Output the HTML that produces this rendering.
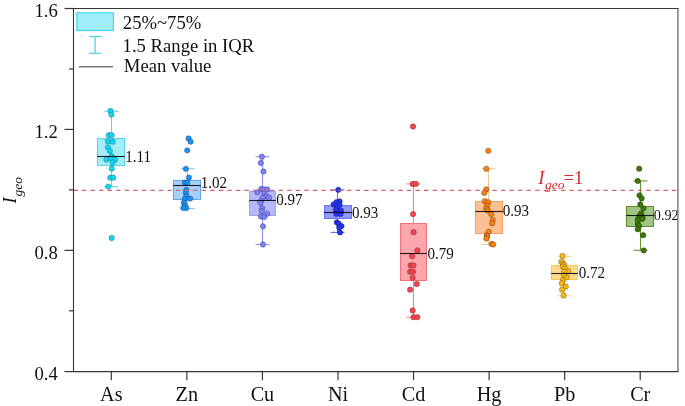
<!DOCTYPE html>
<html><head><meta charset="utf-8"><style>
html,body{margin:0;padding:0;background:#fff;}
body{width:685px;height:406px;overflow:hidden;}
svg{display:block;will-change:transform;}
text{font-family:"Liberation Serif",serif;}
</style></head><body>
<svg width="685" height="406" viewBox="0 0 685 406">
<rect width="685" height="406" fill="#fff"/>

<g>
<line x1="111.50" y1="138.50" x2="111.50" y2="111.30" stroke="#5ad8ea" stroke-width="1.1"/>
<line x1="111.50" y1="165.50" x2="111.50" y2="186.80" stroke="#5ad8ea" stroke-width="1.1"/>
<line x1="104.50" y1="111.30" x2="118.50" y2="111.30" stroke="#5ad8ea" stroke-width="1.1"/>
<line x1="104.50" y1="186.80" x2="118.50" y2="186.80" stroke="#5ad8ea" stroke-width="1.1"/>
<rect x="97.50" y="138.50" width="27.00" height="27.00" fill="#a4edf8" stroke="#52d6ea" stroke-width="1"/>
</g>
<g>
<line x1="187.50" y1="180.50" x2="187.50" y2="168.80" stroke="#86c0f2" stroke-width="1.1"/>
<line x1="187.50" y1="199.50" x2="187.50" y2="208.50" stroke="#86c0f2" stroke-width="1.1"/>
<line x1="180.50" y1="168.80" x2="194.50" y2="168.80" stroke="#86c0f2" stroke-width="1.1"/>
<line x1="180.50" y1="208.50" x2="194.50" y2="208.50" stroke="#86c0f2" stroke-width="1.1"/>
<rect x="173.50" y="180.50" width="27.00" height="19.00" fill="#a6d0f7" stroke="#5aa8f0" stroke-width="1"/>
</g>
<g>
<line x1="262.50" y1="191.50" x2="262.50" y2="156.70" stroke="#8a8ef4" stroke-width="1.1"/>
<line x1="262.50" y1="215.50" x2="262.50" y2="244.50" stroke="#8a8ef4" stroke-width="1.1"/>
<line x1="255.50" y1="156.70" x2="269.50" y2="156.70" stroke="#8a8ef4" stroke-width="1.1"/>
<line x1="255.50" y1="244.50" x2="269.50" y2="244.50" stroke="#8a8ef4" stroke-width="1.1"/>
<rect x="249.50" y="191.50" width="26.00" height="24.00" fill="#b6b9f8" stroke="#9ea2f6" stroke-width="1"/>
</g>
<g>
<line x1="337.50" y1="205.50" x2="337.50" y2="189.90" stroke="#6674f2" stroke-width="1.1"/>
<line x1="337.50" y1="218.50" x2="337.50" y2="232.40" stroke="#6674f2" stroke-width="1.1"/>
<line x1="330.50" y1="189.90" x2="344.50" y2="189.90" stroke="#6674f2" stroke-width="1.1"/>
<line x1="330.50" y1="232.40" x2="344.50" y2="232.40" stroke="#6674f2" stroke-width="1.1"/>
<rect x="324.50" y="205.50" width="27.00" height="13.00" fill="#939af7" stroke="#6a74f2" stroke-width="1"/>
</g>
<g>
<line x1="413.50" y1="223.50" x2="413.50" y2="183.90" stroke="#f08a90" stroke-width="1.1"/>
<line x1="413.50" y1="280.50" x2="413.50" y2="317.30" stroke="#f08a90" stroke-width="1.1"/>
<line x1="406.50" y1="183.90" x2="420.50" y2="183.90" stroke="#f08a90" stroke-width="1.1"/>
<line x1="406.50" y1="317.30" x2="420.50" y2="317.30" stroke="#f08a90" stroke-width="1.1"/>
<rect x="400.50" y="223.50" width="26.00" height="57.00" fill="#f9a7ac" stroke="#f0727b" stroke-width="1"/>
</g>
<g>
<line x1="488.50" y1="201.50" x2="488.50" y2="168.70" stroke="#f2c896" stroke-width="1.1"/>
<line x1="488.50" y1="233.50" x2="488.50" y2="244.50" stroke="#f2c896" stroke-width="1.1"/>
<line x1="481.50" y1="168.70" x2="495.50" y2="168.70" stroke="#f2c896" stroke-width="1.1"/>
<line x1="481.50" y1="244.50" x2="495.50" y2="244.50" stroke="#f2c896" stroke-width="1.1"/>
<rect x="475.50" y="201.50" width="27.00" height="32.00" fill="#fcc092" stroke="#f4a264" stroke-width="1"/>
</g>
<g>
<line x1="564.50" y1="265.50" x2="564.50" y2="256.40" stroke="#f8d890" stroke-width="1.1"/>
<line x1="564.50" y1="279.50" x2="564.50" y2="295.80" stroke="#f8d890" stroke-width="1.1"/>
<line x1="557.50" y1="256.40" x2="571.50" y2="256.40" stroke="#f8d890" stroke-width="1.1"/>
<line x1="557.50" y1="295.80" x2="571.50" y2="295.80" stroke="#f8d890" stroke-width="1.1"/>
<rect x="551.50" y="265.50" width="26.00" height="14.00" fill="#fcda8c" stroke="#f8c850" stroke-width="1"/>
</g>
<g>
<line x1="640.50" y1="206.50" x2="640.50" y2="180.90" stroke="#6a9434" stroke-width="1.1"/>
<line x1="640.50" y1="226.50" x2="640.50" y2="250.30" stroke="#6a9434" stroke-width="1.1"/>
<line x1="633.50" y1="180.90" x2="647.50" y2="180.90" stroke="#6a9434" stroke-width="1.1"/>
<line x1="633.50" y1="250.30" x2="647.50" y2="250.30" stroke="#6a9434" stroke-width="1.1"/>
<rect x="626.50" y="206.50" width="27.00" height="20.00" fill="#a2c484" stroke="#5a8a2a" stroke-width="1"/>
</g>
<circle cx="110.5" cy="110.9" r="2.65" fill="#12d6f2" stroke="#127688" stroke-width="0.5"/>
<circle cx="111.4" cy="114.5" r="2.65" fill="#12d6f2" stroke="#127688" stroke-width="0.5"/>
<circle cx="108.9" cy="135.1" r="2.65" fill="#12d6f2" stroke="#127688" stroke-width="0.5"/>
<circle cx="111.7" cy="135.1" r="2.65" fill="#12d6f2" stroke="#127688" stroke-width="0.5"/>
<circle cx="107.9" cy="141.4" r="2.65" fill="#12d6f2" stroke="#127688" stroke-width="0.5"/>
<circle cx="112.7" cy="141.7" r="2.65" fill="#12d6f2" stroke="#127688" stroke-width="0.5"/>
<circle cx="107.9" cy="147.3" r="2.65" fill="#12d6f2" stroke="#127688" stroke-width="0.5"/>
<circle cx="109.8" cy="150.9" r="2.65" fill="#12d6f2" stroke="#127688" stroke-width="0.5"/>
<circle cx="111.7" cy="156.1" r="2.65" fill="#12d6f2" stroke="#127688" stroke-width="0.5"/>
<circle cx="106.3" cy="159.6" r="2.65" fill="#12d6f2" stroke="#127688" stroke-width="0.5"/>
<circle cx="111.2" cy="158.6" r="2.65" fill="#12d6f2" stroke="#127688" stroke-width="0.5"/>
<circle cx="115.2" cy="159.6" r="2.65" fill="#12d6f2" stroke="#127688" stroke-width="0.5"/>
<circle cx="112.7" cy="162.5" r="2.65" fill="#12d6f2" stroke="#127688" stroke-width="0.5"/>
<circle cx="111.7" cy="168.6" r="2.65" fill="#12d6f2" stroke="#127688" stroke-width="0.5"/>
<circle cx="110.2" cy="177.7" r="2.65" fill="#12d6f2" stroke="#127688" stroke-width="0.5"/>
<circle cx="113.2" cy="177.7" r="2.65" fill="#12d6f2" stroke="#127688" stroke-width="0.5"/>
<circle cx="108.3" cy="186.6" r="2.65" fill="#12d6f2" stroke="#127688" stroke-width="0.5"/>
<circle cx="111.7" cy="238.0" r="2.65" fill="#12d6f2" stroke="#127688" stroke-width="0.5"/>
<circle cx="188.6" cy="138.4" r="2.65" fill="#1e90f2" stroke="#1a4c88" stroke-width="0.5"/>
<circle cx="190.6" cy="141.7" r="2.65" fill="#1e90f2" stroke="#1a4c88" stroke-width="0.5"/>
<circle cx="187.2" cy="150.3" r="2.65" fill="#1e90f2" stroke="#1a4c88" stroke-width="0.5"/>
<circle cx="185.9" cy="168.8" r="2.65" fill="#1e90f2" stroke="#1a4c88" stroke-width="0.5"/>
<circle cx="188.9" cy="177.6" r="2.65" fill="#1e90f2" stroke="#1a4c88" stroke-width="0.5"/>
<circle cx="184.8" cy="182.4" r="2.65" fill="#1e90f2" stroke="#1a4c88" stroke-width="0.5"/>
<circle cx="187.3" cy="182.8" r="2.65" fill="#1e90f2" stroke="#1a4c88" stroke-width="0.5"/>
<circle cx="186.3" cy="189.8" r="2.65" fill="#1e90f2" stroke="#1a4c88" stroke-width="0.5"/>
<circle cx="185.8" cy="192.7" r="2.65" fill="#1e90f2" stroke="#1a4c88" stroke-width="0.5"/>
<circle cx="186.3" cy="196.2" r="2.65" fill="#1e90f2" stroke="#1a4c88" stroke-width="0.5"/>
<circle cx="190.2" cy="198.6" r="2.65" fill="#1e90f2" stroke="#1a4c88" stroke-width="0.5"/>
<circle cx="184.8" cy="199.1" r="2.65" fill="#1e90f2" stroke="#1a4c88" stroke-width="0.5"/>
<circle cx="183.8" cy="202.6" r="2.65" fill="#1e90f2" stroke="#1a4c88" stroke-width="0.5"/>
<circle cx="184.8" cy="205.5" r="2.65" fill="#1e90f2" stroke="#1a4c88" stroke-width="0.5"/>
<circle cx="186.3" cy="208.0" r="2.65" fill="#1e90f2" stroke="#1a4c88" stroke-width="0.5"/>
<circle cx="183.3" cy="208.0" r="2.65" fill="#1e90f2" stroke="#1a4c88" stroke-width="0.5"/>
<circle cx="261.9" cy="156.7" r="2.65" fill="#7e82f4" stroke="#3c3e98" stroke-width="0.5"/>
<circle cx="260.9" cy="162.9" r="2.65" fill="#7e82f4" stroke="#3c3e98" stroke-width="0.5"/>
<circle cx="263.4" cy="171.5" r="2.65" fill="#7e82f4" stroke="#3c3e98" stroke-width="0.5"/>
<circle cx="261.3" cy="188.9" r="2.65" fill="#7e82f4" stroke="#3c3e98" stroke-width="0.5"/>
<circle cx="263.7" cy="189.4" r="2.65" fill="#7e82f4" stroke="#3c3e98" stroke-width="0.5"/>
<circle cx="267.2" cy="189.4" r="2.65" fill="#7e82f4" stroke="#3c3e98" stroke-width="0.5"/>
<circle cx="257.3" cy="192.3" r="2.65" fill="#7e82f4" stroke="#3c3e98" stroke-width="0.5"/>
<circle cx="264.2" cy="193.3" r="2.65" fill="#7e82f4" stroke="#3c3e98" stroke-width="0.5"/>
<circle cx="266.2" cy="196.3" r="2.65" fill="#7e82f4" stroke="#3c3e98" stroke-width="0.5"/>
<circle cx="262.7" cy="197.8" r="2.65" fill="#7e82f4" stroke="#3c3e98" stroke-width="0.5"/>
<circle cx="269.1" cy="197.8" r="2.65" fill="#7e82f4" stroke="#3c3e98" stroke-width="0.5"/>
<circle cx="260.8" cy="201.2" r="2.65" fill="#7e82f4" stroke="#3c3e98" stroke-width="0.5"/>
<circle cx="260.3" cy="202.7" r="2.65" fill="#7e82f4" stroke="#3c3e98" stroke-width="0.5"/>
<circle cx="262.2" cy="208.1" r="2.65" fill="#7e82f4" stroke="#3c3e98" stroke-width="0.5"/>
<circle cx="261.7" cy="211.1" r="2.65" fill="#7e82f4" stroke="#3c3e98" stroke-width="0.5"/>
<circle cx="267.2" cy="213.8" r="2.65" fill="#7e82f4" stroke="#3c3e98" stroke-width="0.5"/>
<circle cx="261.0" cy="216.5" r="2.65" fill="#7e82f4" stroke="#3c3e98" stroke-width="0.5"/>
<circle cx="264.2" cy="216.9" r="2.65" fill="#7e82f4" stroke="#3c3e98" stroke-width="0.5"/>
<circle cx="263.0" cy="226.3" r="2.65" fill="#7e82f4" stroke="#3c3e98" stroke-width="0.5"/>
<circle cx="263.0" cy="244.5" r="2.65" fill="#7e82f4" stroke="#3c3e98" stroke-width="0.5"/>
<circle cx="338.3" cy="189.8" r="2.65" fill="#2434f0" stroke="#121a78" stroke-width="0.5"/>
<circle cx="339.6" cy="201.3" r="2.65" fill="#2434f0" stroke="#121a78" stroke-width="0.5"/>
<circle cx="336.4" cy="202.2" r="2.65" fill="#2434f0" stroke="#121a78" stroke-width="0.5"/>
<circle cx="333.6" cy="204.5" r="2.65" fill="#2434f0" stroke="#121a78" stroke-width="0.5"/>
<circle cx="339.6" cy="205.0" r="2.65" fill="#2434f0" stroke="#121a78" stroke-width="0.5"/>
<circle cx="336.8" cy="207.4" r="2.65" fill="#2434f0" stroke="#121a78" stroke-width="0.5"/>
<circle cx="335.9" cy="210.2" r="2.65" fill="#2434f0" stroke="#121a78" stroke-width="0.5"/>
<circle cx="341.0" cy="210.6" r="2.65" fill="#2434f0" stroke="#121a78" stroke-width="0.5"/>
<circle cx="336.4" cy="213.9" r="2.65" fill="#2434f0" stroke="#121a78" stroke-width="0.5"/>
<circle cx="340.6" cy="213.9" r="2.65" fill="#2434f0" stroke="#121a78" stroke-width="0.5"/>
<circle cx="336.8" cy="222.3" r="2.65" fill="#2434f0" stroke="#121a78" stroke-width="0.5"/>
<circle cx="338.7" cy="223.7" r="2.65" fill="#2434f0" stroke="#121a78" stroke-width="0.5"/>
<circle cx="341.5" cy="226.1" r="2.65" fill="#2434f0" stroke="#121a78" stroke-width="0.5"/>
<circle cx="339.2" cy="227.5" r="2.65" fill="#2434f0" stroke="#121a78" stroke-width="0.5"/>
<circle cx="340.1" cy="232.4" r="2.65" fill="#2434f0" stroke="#121a78" stroke-width="0.5"/>
<circle cx="413.0" cy="126.5" r="2.65" fill="#f8464f" stroke="#7a2028" stroke-width="0.5"/>
<circle cx="412.7" cy="183.9" r="2.65" fill="#f8464f" stroke="#7a2028" stroke-width="0.5"/>
<circle cx="415.8" cy="183.9" r="2.65" fill="#f8464f" stroke="#7a2028" stroke-width="0.5"/>
<circle cx="413.1" cy="214.1" r="2.65" fill="#f8464f" stroke="#7a2028" stroke-width="0.5"/>
<circle cx="413.7" cy="232.2" r="2.65" fill="#f8464f" stroke="#7a2028" stroke-width="0.5"/>
<circle cx="417.4" cy="250.4" r="2.65" fill="#f8464f" stroke="#7a2028" stroke-width="0.5"/>
<circle cx="412.1" cy="256.2" r="2.65" fill="#f8464f" stroke="#7a2028" stroke-width="0.5"/>
<circle cx="410.6" cy="265.4" r="2.65" fill="#f8464f" stroke="#7a2028" stroke-width="0.5"/>
<circle cx="413.5" cy="265.4" r="2.65" fill="#f8464f" stroke="#7a2028" stroke-width="0.5"/>
<circle cx="410.1" cy="271.7" r="2.65" fill="#f8464f" stroke="#7a2028" stroke-width="0.5"/>
<circle cx="413.1" cy="271.7" r="2.65" fill="#f8464f" stroke="#7a2028" stroke-width="0.5"/>
<circle cx="412.7" cy="277.8" r="2.65" fill="#f8464f" stroke="#7a2028" stroke-width="0.5"/>
<circle cx="416.8" cy="283.9" r="2.65" fill="#f8464f" stroke="#7a2028" stroke-width="0.5"/>
<circle cx="410.1" cy="289.7" r="2.65" fill="#f8464f" stroke="#7a2028" stroke-width="0.5"/>
<circle cx="412.7" cy="310.5" r="2.65" fill="#f8464f" stroke="#7a2028" stroke-width="0.5"/>
<circle cx="413.5" cy="317.2" r="2.65" fill="#f8464f" stroke="#7a2028" stroke-width="0.5"/>
<circle cx="417.3" cy="317.2" r="2.65" fill="#f8464f" stroke="#7a2028" stroke-width="0.5"/>
<circle cx="488.3" cy="150.8" r="2.65" fill="#fb8216" stroke="#703810" stroke-width="0.5"/>
<circle cx="486.3" cy="168.8" r="2.65" fill="#fb8216" stroke="#703810" stroke-width="0.5"/>
<circle cx="486.3" cy="189.4" r="2.65" fill="#fb8216" stroke="#703810" stroke-width="0.5"/>
<circle cx="484.3" cy="192.8" r="2.65" fill="#fb8216" stroke="#703810" stroke-width="0.5"/>
<circle cx="484.8" cy="201.2" r="2.65" fill="#fb8216" stroke="#703810" stroke-width="0.5"/>
<circle cx="488.2" cy="202.2" r="2.65" fill="#fb8216" stroke="#703810" stroke-width="0.5"/>
<circle cx="487.2" cy="205.6" r="2.65" fill="#fb8216" stroke="#703810" stroke-width="0.5"/>
<circle cx="486.3" cy="208.6" r="2.65" fill="#fb8216" stroke="#703810" stroke-width="0.5"/>
<circle cx="487.7" cy="210.5" r="2.65" fill="#fb8216" stroke="#703810" stroke-width="0.5"/>
<circle cx="491.2" cy="213.9" r="2.65" fill="#fb8216" stroke="#703810" stroke-width="0.5"/>
<circle cx="492.7" cy="219.9" r="2.65" fill="#fb8216" stroke="#703810" stroke-width="0.5"/>
<circle cx="492.2" cy="223.3" r="2.65" fill="#fb8216" stroke="#703810" stroke-width="0.5"/>
<circle cx="488.7" cy="231.7" r="2.65" fill="#fb8216" stroke="#703810" stroke-width="0.5"/>
<circle cx="486.7" cy="235.1" r="2.65" fill="#fb8216" stroke="#703810" stroke-width="0.5"/>
<circle cx="487.2" cy="236.6" r="2.65" fill="#fb8216" stroke="#703810" stroke-width="0.5"/>
<circle cx="486.3" cy="238.6" r="2.65" fill="#fb8216" stroke="#703810" stroke-width="0.5"/>
<circle cx="491.7" cy="244.0" r="2.65" fill="#fb8216" stroke="#703810" stroke-width="0.5"/>
<circle cx="493.2" cy="244.5" r="2.65" fill="#fb8216" stroke="#703810" stroke-width="0.5"/>
<circle cx="562.5" cy="255.9" r="2.65" fill="#fab81a" stroke="#705008" stroke-width="0.5"/>
<circle cx="561.4" cy="261.8" r="2.65" fill="#fab81a" stroke="#705008" stroke-width="0.5"/>
<circle cx="562.9" cy="263.7" r="2.65" fill="#fab81a" stroke="#705008" stroke-width="0.5"/>
<circle cx="564.4" cy="264.8" r="2.65" fill="#fab81a" stroke="#705008" stroke-width="0.5"/>
<circle cx="562.9" cy="266.6" r="2.65" fill="#fab81a" stroke="#705008" stroke-width="0.5"/>
<circle cx="564.7" cy="268.5" r="2.65" fill="#fab81a" stroke="#705008" stroke-width="0.5"/>
<circle cx="568.2" cy="271.1" r="2.65" fill="#fab81a" stroke="#705008" stroke-width="0.5"/>
<circle cx="564.4" cy="271.6" r="2.65" fill="#fab81a" stroke="#705008" stroke-width="0.5"/>
<circle cx="564.0" cy="275.5" r="2.65" fill="#fab81a" stroke="#705008" stroke-width="0.5"/>
<circle cx="566.6" cy="277.4" r="2.65" fill="#fab81a" stroke="#705008" stroke-width="0.5"/>
<circle cx="562.9" cy="280.3" r="2.65" fill="#fab81a" stroke="#705008" stroke-width="0.5"/>
<circle cx="561.8" cy="283.3" r="2.65" fill="#fab81a" stroke="#705008" stroke-width="0.5"/>
<circle cx="565.8" cy="286.6" r="2.65" fill="#fab81a" stroke="#705008" stroke-width="0.5"/>
<circle cx="562.1" cy="289.6" r="2.65" fill="#fab81a" stroke="#705008" stroke-width="0.5"/>
<circle cx="563.6" cy="295.5" r="2.65" fill="#fab81a" stroke="#705008" stroke-width="0.5"/>
<circle cx="639.2" cy="168.7" r="2.65" fill="#3e7a0a" stroke="#1e3a05" stroke-width="0.5"/>
<circle cx="637.7" cy="180.9" r="2.65" fill="#3e7a0a" stroke="#1e3a05" stroke-width="0.5"/>
<circle cx="639.5" cy="195.3" r="2.65" fill="#3e7a0a" stroke="#1e3a05" stroke-width="0.5"/>
<circle cx="641.7" cy="198.4" r="2.65" fill="#3e7a0a" stroke="#1e3a05" stroke-width="0.5"/>
<circle cx="640.3" cy="204.5" r="2.65" fill="#3e7a0a" stroke="#1e3a05" stroke-width="0.5"/>
<circle cx="643.5" cy="208.3" r="2.65" fill="#3e7a0a" stroke="#1e3a05" stroke-width="0.5"/>
<circle cx="641.2" cy="213.4" r="2.65" fill="#3e7a0a" stroke="#1e3a05" stroke-width="0.5"/>
<circle cx="639.8" cy="215.3" r="2.65" fill="#3e7a0a" stroke="#1e3a05" stroke-width="0.5"/>
<circle cx="642.6" cy="217.6" r="2.65" fill="#3e7a0a" stroke="#1e3a05" stroke-width="0.5"/>
<circle cx="638.2" cy="218.9" r="2.65" fill="#3e7a0a" stroke="#1e3a05" stroke-width="0.5"/>
<circle cx="642.2" cy="218.9" r="2.65" fill="#3e7a0a" stroke="#1e3a05" stroke-width="0.5"/>
<circle cx="637.9" cy="220.5" r="2.65" fill="#3e7a0a" stroke="#1e3a05" stroke-width="0.5"/>
<circle cx="637.7" cy="223.9" r="2.65" fill="#3e7a0a" stroke="#1e3a05" stroke-width="0.5"/>
<circle cx="639.2" cy="225.8" r="2.65" fill="#3e7a0a" stroke="#1e3a05" stroke-width="0.5"/>
<circle cx="637.7" cy="229.3" r="2.65" fill="#3e7a0a" stroke="#1e3a05" stroke-width="0.5"/>
<circle cx="643.2" cy="235.2" r="2.65" fill="#3e7a0a" stroke="#1e3a05" stroke-width="0.5"/>
<circle cx="643.7" cy="250.4" r="2.65" fill="#3e7a0a" stroke="#1e3a05" stroke-width="0.5"/>
<line x1="97.20" y1="156.50" x2="124.80" y2="156.50" stroke="#000" stroke-opacity="0.86" stroke-width="1.1"/>
<line x1="173.20" y1="185.50" x2="200.80" y2="185.50" stroke="#000" stroke-opacity="0.86" stroke-width="1.1"/>
<line x1="249.20" y1="200.50" x2="275.80" y2="200.50" stroke="#000" stroke-opacity="0.86" stroke-width="1.1"/>
<line x1="324.20" y1="212.50" x2="351.80" y2="212.50" stroke="#000" stroke-opacity="0.86" stroke-width="1.1"/>
<line x1="400.20" y1="253.50" x2="426.80" y2="253.50" stroke="#000" stroke-opacity="0.86" stroke-width="1.1"/>
<line x1="475.20" y1="211.50" x2="502.80" y2="211.50" stroke="#000" stroke-opacity="0.86" stroke-width="1.1"/>
<line x1="551.20" y1="273.50" x2="577.80" y2="273.50" stroke="#000" stroke-opacity="0.86" stroke-width="1.1"/>
<line x1="626.20" y1="215.50" x2="653.80" y2="215.50" stroke="#000" stroke-opacity="0.86" stroke-width="1.1"/>
<line x1="73.50" y1="190.3" x2="678.00" y2="190.3" stroke="#d0606c" stroke-width="1.35" stroke-dasharray="4.3 4.25"/>
<text x="538.3" y="183.7" font-size="18.67" fill="#d52b2f" font-style="italic">I</text>
<text x="545.0" y="188.6" font-size="13.5" fill="#d52b2f" font-style="italic">geo</text>
<text x="563.6" y="183.7" font-size="18.67" fill="#d52b2f">=1</text>
<defs><clipPath id="pc"><rect x="0" y="0" width="677.6" height="406"/></clipPath></defs>
<g clip-path="url(#pc)"><text transform="translate(125.35,162.20) scale(0.94,1)" font-size="16.0" fill="#111">1.11</text></g>
<g clip-path="url(#pc)"><text transform="translate(200.75,188.10) scale(0.94,1)" font-size="16.0" fill="#111">1.02</text></g>
<g clip-path="url(#pc)"><text transform="translate(276.14,204.80) scale(0.94,1)" font-size="16.0" fill="#111">0.97</text></g>
<g clip-path="url(#pc)"><text transform="translate(352.04,217.80) scale(0.94,1)" font-size="16.0" fill="#111">0.93</text></g>
<g clip-path="url(#pc)"><text transform="translate(427.44,258.50) scale(0.94,1)" font-size="16.0" fill="#111">0.79</text></g>
<g clip-path="url(#pc)"><text transform="translate(502.74,215.70) scale(0.94,1)" font-size="16.0" fill="#111">0.93</text></g>
<g clip-path="url(#pc)"><text transform="translate(578.64,277.80) scale(0.94,1)" font-size="16.0" fill="#111">0.72</text></g>
<g clip-path="url(#pc)"><text transform="translate(653.86,220.00) scale(1.0,1)" font-size="14.2" fill="#111">0.92</text></g>
<line x1="73.50" y1="7.95" x2="73.50" y2="371.90" stroke="#363636" stroke-width="1.1"/>
<line x1="73.00" y1="8.50" x2="678.50" y2="8.50" stroke="#363636" stroke-width="1.1"/>
<line x1="73.00" y1="371.6" x2="678.50" y2="371.6" stroke="#363636" stroke-width="1.1"/>
<line x1="677.95" y1="8.50" x2="677.95" y2="371.6" stroke="#363636" stroke-width="0.95"/>
<line x1="64.50" y1="8.50" x2="73.50" y2="8.50" stroke="#363636" stroke-width="1.2"/>
<text x="57.8" y="17.10" font-size="18.67" text-anchor="end" fill="#111">1.6</text>
<line x1="64.50" y1="129.43" x2="73.50" y2="129.43" stroke="#363636" stroke-width="1.2"/>
<text x="57.8" y="138.03" font-size="18.67" text-anchor="end" fill="#111">1.2</text>
<line x1="64.50" y1="250.37" x2="73.50" y2="250.37" stroke="#363636" stroke-width="1.2"/>
<text x="57.8" y="258.97" font-size="18.67" text-anchor="end" fill="#111">0.8</text>
<line x1="64.50" y1="371.60" x2="73.50" y2="371.60" stroke="#363636" stroke-width="1.2"/>
<text x="57.8" y="380.20" font-size="18.67" text-anchor="end" fill="#111">0.4</text>
<line x1="69.00" y1="68.97" x2="73.50" y2="68.97" stroke="#363636" stroke-width="1.2"/>
<line x1="69.00" y1="189.90" x2="73.50" y2="189.90" stroke="#363636" stroke-width="1.2"/>
<line x1="69.00" y1="310.83" x2="73.50" y2="310.83" stroke="#363636" stroke-width="1.2"/>
<line x1="111.28" y1="371.30" x2="111.28" y2="380.30" stroke="#363636" stroke-width="1.2"/>
<text x="111.28" y="400.8" font-size="20.2" text-anchor="middle" fill="#111">As</text>
<line x1="186.84" y1="371.30" x2="186.84" y2="380.30" stroke="#363636" stroke-width="1.2"/>
<text x="186.84" y="400.8" font-size="20.2" text-anchor="middle" fill="#111">Zn</text>
<line x1="262.41" y1="371.30" x2="262.41" y2="380.30" stroke="#363636" stroke-width="1.2"/>
<text x="262.41" y="400.8" font-size="20.2" text-anchor="middle" fill="#111">Cu</text>
<line x1="337.97" y1="371.30" x2="337.97" y2="380.30" stroke="#363636" stroke-width="1.2"/>
<text x="337.97" y="400.8" font-size="20.2" text-anchor="middle" fill="#111">Ni</text>
<line x1="413.53" y1="371.30" x2="413.53" y2="380.30" stroke="#363636" stroke-width="1.2"/>
<text x="413.53" y="400.8" font-size="20.2" text-anchor="middle" fill="#111">Cd</text>
<line x1="489.09" y1="371.30" x2="489.09" y2="380.30" stroke="#363636" stroke-width="1.2"/>
<text x="489.09" y="400.8" font-size="20.2" text-anchor="middle" fill="#111">Hg</text>
<line x1="564.66" y1="371.30" x2="564.66" y2="380.30" stroke="#363636" stroke-width="1.2"/>
<text x="564.66" y="400.8" font-size="20.2" text-anchor="middle" fill="#111">Pb</text>
<line x1="640.22" y1="371.30" x2="640.22" y2="380.30" stroke="#363636" stroke-width="1.2"/>
<text x="640.22" y="400.8" font-size="20.2" text-anchor="middle" fill="#111">Cr</text>
<g transform="translate(16.2,203.5) rotate(-90)"><text x="0" y="0" font-size="18.67" font-style="italic" fill="#111">I<tspan font-size="13.4" dx="0.8" dy="5.6">geo</tspan></text></g>
<rect x="76.8" y="12.8" width="36.6" height="17.7" fill="#a0eef9" stroke="#3ed6ec" stroke-width="1.1"/>
<line x1="95.1" y1="36.5" x2="95.1" y2="53.3" stroke="#48d2ea" stroke-width="1.2"/>
<line x1="89" y1="36.5" x2="101" y2="36.5" stroke="#48d2ea" stroke-width="1.2"/>
<line x1="89" y1="53.3" x2="101" y2="53.3" stroke="#48d2ea" stroke-width="1.2"/>
<line x1="78.9" y1="66.8" x2="113" y2="66.8" stroke="#7a7a7a" stroke-width="1.5"/>
<text x="122.8" y="29.1" font-size="18.67" fill="#111">25%~75%</text>
<text x="122.6" y="51.5" font-size="18.67" fill="#111">1.5 Range in IQR</text>
<text x="123.8" y="71.6" font-size="18.67" fill="#111">Mean value</text>
</svg></body></html>
